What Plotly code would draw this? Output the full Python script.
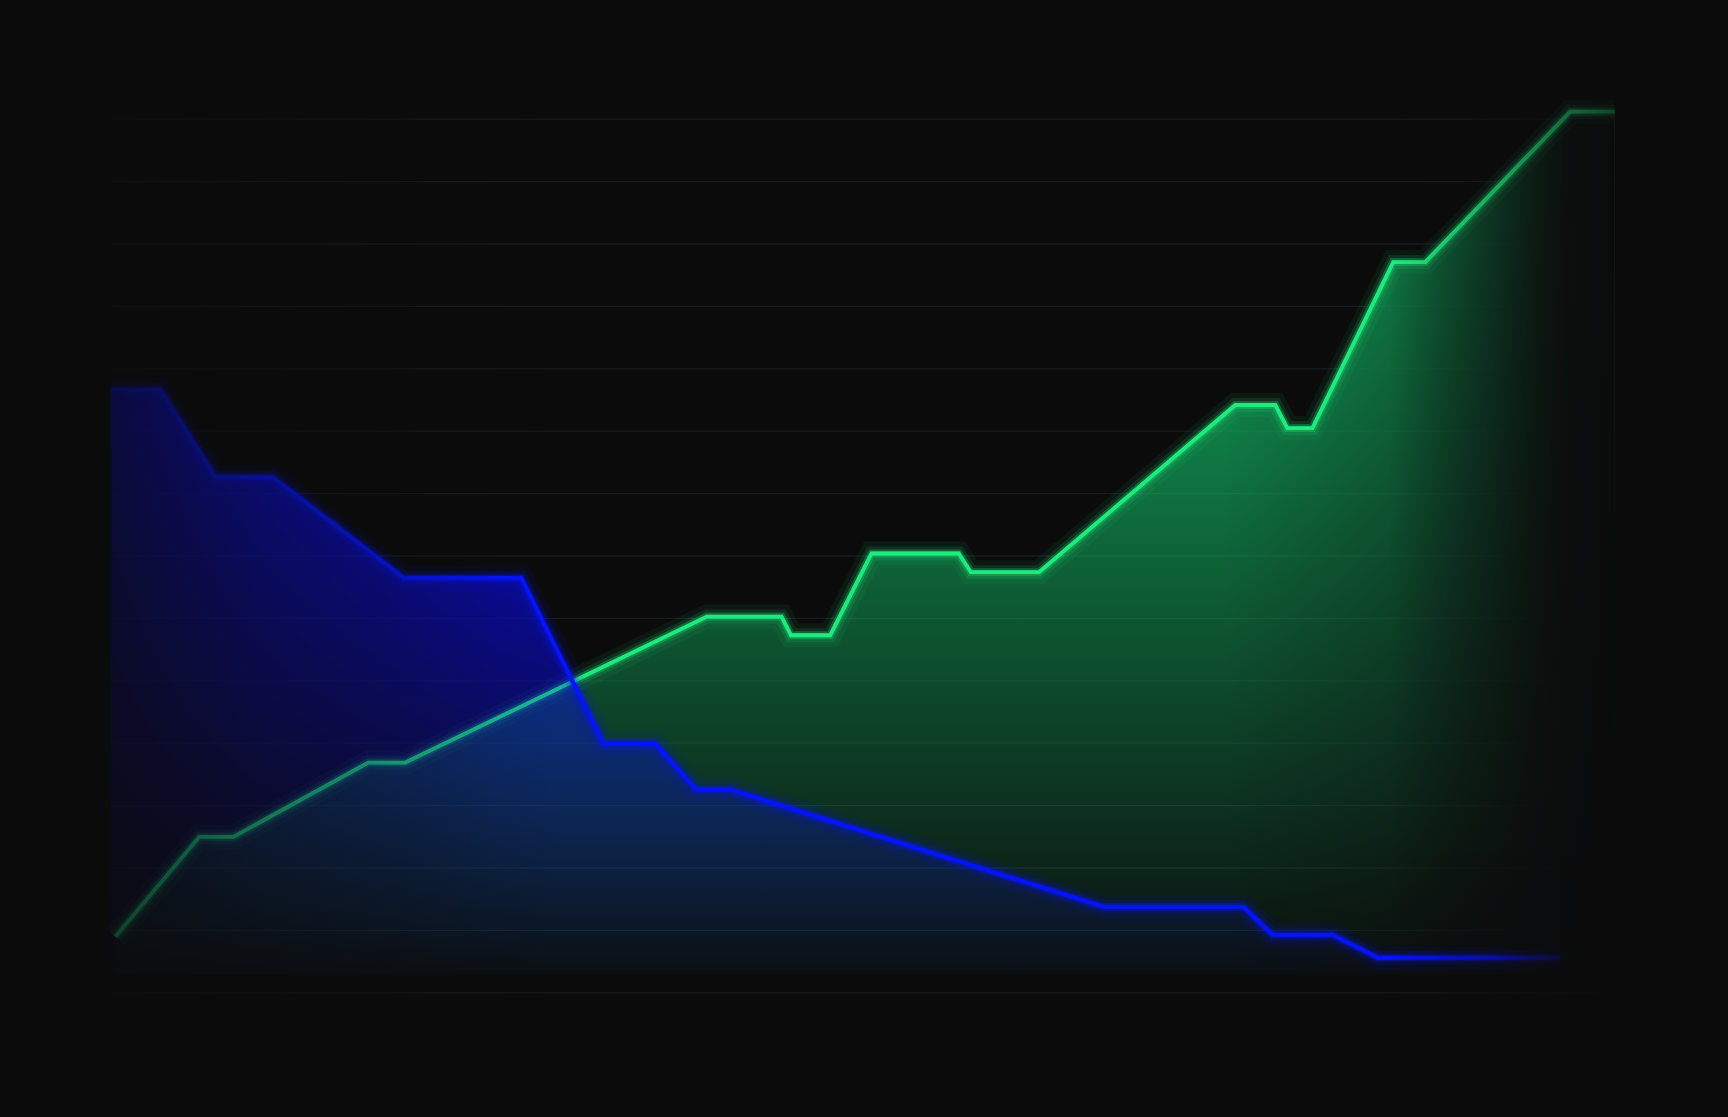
import plotly.graph_objects as go

BG = "#0b0b0c"

# ---- data ----
green_x = [0.32, 5.90, 8.17, 17.14, 19.60, 39.65, 44.62, 45.25, 47.85, 50.60, 56.40,
           57.21, 61.74, 74.79, 77.45, 78.25, 79.92, 85.29, 87.42, 97.06, 100.0]
green_y = [0.90, 2.50, 2.50, 3.69, 3.69, 6.03, 6.03, 5.73, 5.73, 7.04, 7.04,
           6.74, 6.74, 9.42, 9.42, 9.05, 9.05, 11.71, 11.71, 14.12, 14.12]

blue_x = [0.0, 3.31, 6.97, 10.76, 19.50, 27.31, 32.79, 36.22, 38.95, 41.18,
          66.03, 75.33, 77.26, 81.23, 84.28, 96.40]
blue_y = [9.67, 9.67, 8.27, 8.27, 6.65, 6.65, 3.99, 3.99, 3.26, 3.26,
          1.38, 1.38, 0.93, 0.93, 0.56, 0.56]

grid_values = list(range(0, 15))

BASE = 0.3
X_RANGE = [-1.5, 101.5]
Y_RANGE = [-0.5, 14.5]

GREEN_RGB = (30, 235, 125)
GREEN_FILL = (18, 220, 118)
BLUE_RGB = (5, 20, 255)
BLUE_FILL = (10, 10, 232)
BGC = (11, 11, 12)


def rgba(c, a):
    return f"rgba({c[0]},{c[1]},{c[2]},{a})"


def polygon(xs, ys):
    return xs + [xs[-1], xs[0], xs[0]], ys + [BASE, BASE, ys[0]]


def mask(x_a, x_b, y_a, y_b, stops):
    """Decorative background-coloured fade over a rectangle (horizontal gradient)."""
    return go.Scatter(
        x=[x_a, x_b, x_b, x_a, x_a], y=[y_a, y_a, y_b, y_b, y_a], mode="none", fill="toself",
        fillgradient=dict(type="horizontal", start=x_a, stop=x_b,
                          colorscale=[[(x - x_a) / (x_b - x_a), rgba(BGC, a)] for x, a in stops]),
        hoverinfo="skip", showlegend=False)


fig = go.Figure()

# green area (vertical fade)
gpx, gpy = polygon(green_x, green_y)
fig.add_trace(go.Scatter(
    x=gpx, y=gpy, mode="none", fill="toself",
    fillgradient=dict(type="vertical", start=BASE, stop=max(green_y),
                      colorscale=[[0, rgba(GREEN_FILL, 0.02)], [1, rgba(GREEN_FILL, 0.85)]]),
    hoverinfo="skip", showlegend=False))
# fade of the green area towards the right
fig.add_trace(go.Scatter(
    x=gpx, y=gpy, mode="none", fill="toself",
    fillgradient=dict(type="horizontal", start=70, stop=100,
                      colorscale=[[0, rgba(BGC, 0)], [0.133, rgba(BGC, 0)], [0.5, rgba(BGC, 0.28)],
                                  [0.733, rgba(BGC, 0.65)], [0.9, rgba(BGC, 0.95)], [1, rgba(BGC, 1)]]),
    hoverinfo="skip", showlegend=False))

# green line with glow
for w, a in [(24, 0.06), (14, 0.13), (8, 0.28)]:
    fig.add_trace(go.Scatter(x=green_x, y=green_y, mode="lines",
                             line=dict(color=rgba(GREEN_RGB, a), width=w),
                             hoverinfo="skip", showlegend=False))
fig.add_trace(go.Scatter(x=green_x, y=green_y, mode="lines",
                         line=dict(color=rgba(GREEN_RGB, 1), width=3.8),
                         hoverinfo="skip", showlegend=False))

# blue area (vertical fade)
bpx, bpy = polygon(blue_x, blue_y)
fig.add_trace(go.Scatter(
    x=bpx, y=bpy, mode="none", fill="toself",
    fillgradient=dict(type="vertical", start=BASE, stop=max(blue_y),
                      colorscale=[[0, rgba(BLUE_FILL, 0.02)], [1, rgba(BLUE_FILL, 0.93)]]),
    hoverinfo="skip", showlegend=False))

# green line partly above the blue area
fig.add_trace(go.Scatter(x=green_x, y=green_y, mode="lines",
                         line=dict(color=rgba(GREEN_RGB, 0.5), width=3.8),
                         hoverinfo="skip", showlegend=False))

# blue line with glow
for w, a in [(24, 0.07), (14, 0.15), (8, 0.3)]:
    fig.add_trace(go.Scatter(x=blue_x, y=blue_y, mode="lines",
                             line=dict(color=rgba(BLUE_RGB, a), width=w),
                             hoverinfo="skip", showlegend=False))
fig.add_trace(go.Scatter(x=blue_x, y=blue_y, mode="lines",
                         line=dict(color=rgba(BLUE_RGB, 1), width=4),
                         hoverinfo="skip", showlegend=False))

# edge fades (decorative masks)
x0, x1 = X_RANGE
y0, y1 = Y_RANGE
fig.add_trace(mask(x0, 30, y0, y1, [(x0, 0.8), (0, 0.75), (3, 0.66), (10, 0.45),
                                     (19, 0.25), (26, 0.06), (30, 0)]))
fig.add_trace(mask(80, x1, y0, y1, [(80, 0), (85, 0), (92, 0.28), (97, 0.58),
                                     (100, 0.75), (x1, 0.9)]))
fig.add_trace(mask(84, x1, y0, 2.2, [(84, 0), (88, 0.1), (92, 0.2), (96, 0.55),
                                      (98, 0.7), (x1, 0.8)]))

# horizontal grid lines (below the traces)
shapes = [dict(type="line", xref="x", yref="y", x0=0, x1=100, y0=v, y1=v, layer="below",
               line=dict(color="rgb(21,29,31)", width=1.3)) for v in grid_values]

fig.update_layout(
    width=1728, height=1117, autosize=False,
    paper_bgcolor=BG, plot_bgcolor=BG,
    margin=dict(l=88, r=91, t=88, b=93, pad=0),
    hovermode=False, showlegend=False, shapes=shapes,
    xaxis=dict(range=X_RANGE, showgrid=False, zeroline=False, showline=False,
               showticklabels=False, ticks=""),
    yaxis=dict(range=Y_RANGE, showgrid=False, zeroline=False, showline=False,
               showticklabels=False, ticks=""),
)

fig.write_html("out.html", config={"displayModeBar": False, "staticPlot": True},
               post_script="document.body.style.margin='0';document.body.style.overflow='hidden';")
